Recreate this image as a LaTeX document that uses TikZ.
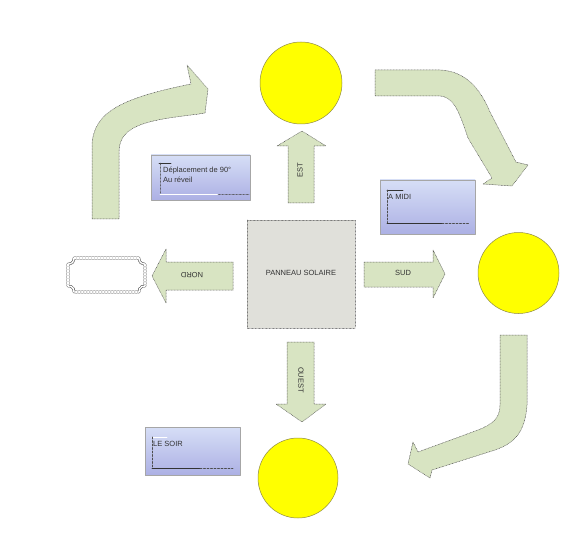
\documentclass[tikz,border=0pt]{standalone}
\usepackage{fontspec}
\setmainfont{Liberation Sans}
\usetikzlibrary{positioning}
\definecolor{arrowgreen}{RGB}{216,228,194}
\definecolor{panelgray}{RGB}{224,224,218}
\definecolor{sunyellow}{RGB}{255,255,0}
\definecolor{notetop}{RGB}{214,222,246}
\definecolor{notebottom}{RGB}{172,176,228}
\tikzset{
  blockarrow/.style={fill=arrowgreen,draw=black!70,densely dotted,line width=0.5pt},
  sun/.style={fill=sunyellow,draw=black!50!yellow,line width=0.5pt},
  notebox/.style={top color=notetop,bottom color=notebottom,draw=black!35,line width=0.4pt},
  label/.style={font=\fontsize{7.5}{9}\selectfont,text=black!80,inner sep=0pt},
  tick/.style={draw=black!80,line width=0.6pt},
  dashtick/.style={draw=black!70,line width=0.6pt,dash pattern=on 2pt off 1.5pt}
}
\begin{document}
\begin{tikzpicture}[x=1pt,y=-1pt,line cap=round,line join=round]
  \useasboundingbox[fill=white] (0,0) rectangle (562,548);
  \draw[sun] (301,83) circle (41);
  \draw[sun] (518.5,273) circle (40.5);
  \draw[sun] (298,478) circle (40);
  \draw[fill=panelgray,draw=black!60,densely dotted] (247,220) rectangle (355,328);
  \node[label] (panel) at (301,273) {PANNEAU SOLAIRE};
  \draw[blockarrow] (288,203) -- (288,146) -- (277,146) -- (302,131) -- (326,146) -- (314,146) -- (314,203) -- cycle;
  \node[label,rotate=90] (est) at (300,170) {EST};
  \draw[blockarrow] (287,342) -- (287,404) -- (276,404) -- (302,422) -- (326,404) -- (314,404) -- (314,342) -- cycle;
  \node[label,rotate=-90] (ouest) at (301,380) {OUEST};
  \draw[blockarrow] (233,262) -- (166,262) -- (166,249) -- (152,276) -- (166,303) -- (166,290) -- (233,290) -- cycle;
  \node[label,rotate=180] (nord) at (192,275) {NORD};
  \draw[blockarrow] (364,262) -- (433,262) -- (433,250) -- (445,274) -- (433,298) -- (433,287) -- (364,287) -- cycle;
  \node[label] (sud) at (403,273) {SUD};
  \draw[blockarrow] (92,219) -- (92,147) .. controls (92,112) and (122,98) .. (191,84) -- (187,65) -- (208,89) -- (205,113) -- (199,114) .. controls (150,120) and (119,124) .. (119,152) -- (119,219) -- cycle;
  \draw[blockarrow] (375,70) -- (440,70) .. controls (465,71) and (480,88) .. (490,112) -- (516,162) -- (528,165) -- (512,186) -- (483,184) -- (492,178) -- (468,138) .. controls (460,115) and (455,97) .. (440,96) -- (375,96) -- cycle;
  \draw[blockarrow] (500,335) -- (527,335) -- (527,405) .. controls (525,432) and (515,443) .. (495,450) -- (432,470) -- (430,478) -- (408,464) -- (413,442) -- (418,452) -- (478,430) .. controls (493,424) and (500,418) .. (500,405) -- cycle;
  \draw[white,draw=black!75,double,double distance=1.6pt,dash pattern=on 2pt off 1pt,line width=0.5pt] (74,258) -- (139,258) .. controls (139,262) and (141,264) .. (145,264) -- (145,286) .. controls (141,286) and (139,288) .. (139,292) -- (74,292) .. controls (74,288) and (72,286) .. (68,286) -- (68,264) .. controls (72,264) and (74,262) .. (74,258) -- cycle;
  \draw[notebox] (151,155) rectangle (250,200);
  \draw[tick] (159,163) -- (171,163);
  \draw[draw=black!70,densely dotted] (160,163) -- (160,194);
  \draw[white,line width=0.8pt] (160,194) -- (218,194);
  \draw[draw=black!70,densely dotted] (218,194) -- (249,194);
  \node[label,anchor=west] (deplacement) at (163,170.5) {Déplacement de 90°};
  \node[label,anchor=west] (reveil) at (163,180) {Au réveil};
  \draw[notebox] (380,180) rectangle (475,234);
  \draw[tick] (387,190) -- (403,190);
  \draw[dashtick] (387,190) -- (387,223);
  \draw[tick] (387,223) -- (442,223);
  \draw[dashtick] (442,223) -- (470,223);
  \node[label,anchor=west] (midi) at (388,197) {A MIDI};
  \draw[notebox] (145,427) rectangle (240,475);
  \draw[draw=white,line width=0.6pt] (152,437) -- (167,437);
  \draw[dashtick] (152,437) -- (152,468);
  \draw[tick] (152,468) -- (200,468);
  \draw[dashtick] (200,468) -- (233,468);
  \node[label,anchor=west] (soir) at (153,444) {LE SOIR};
\end{tikzpicture}
\end{document}
